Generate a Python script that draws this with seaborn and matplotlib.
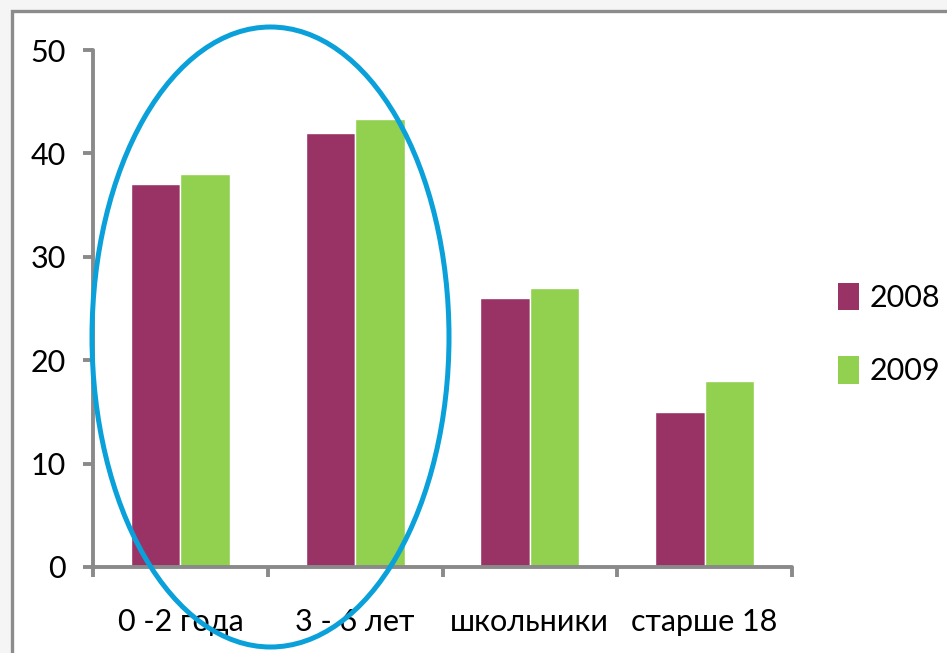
import matplotlib
matplotlib.use("Agg")
import matplotlib.pyplot as plt
from matplotlib.patches import Ellipse, Rectangle, Patch
import seaborn as sns
import pandas as pd

categories = ["0 -2 года", "3 - 6 лет", "школьники", "старше 18"]
years = ["2008", "2009"]
values_2008 = [37, 42, 26, 15]
values_2009 = [38, 43.3, 27, 18]
colors = {"2008": "#993366", "2009": "#92D050"}
y_ticks = [0, 10, 20, 30, 40, 50]

df = pd.DataFrame({
    "group": categories * 2,
    "year": ["2008"] * len(categories) + ["2009"] * len(categories),
    "value": values_2008 + values_2009,
})

sns.set_style("white")
plt.rcParams["font.family"] = ["Lato", "DejaVu Sans"]
plt.rcParams["text.color"] = "black"
plt.rcParams["xtick.color"] = "black"
plt.rcParams["ytick.color"] = "black"

W, H = 947, 653
fig = plt.figure(figsize=(W / 100, H / 100), dpi=100)
fig.patch.set_facecolor("#f5f5f5")

# white slide panel with gray border
panel = Rectangle((12 / W, -0.2), 1.2, 1 - 11 / H + 0.2,
                  transform=fig.transFigure, facecolor="white",
                  edgecolor="#8c8c8c", linewidth=2.4, zorder=-5)
fig.add_artist(panel)

ax = fig.add_axes([93 / W, 1 - 567 / H, (792 - 93) / W, (567 - 50) / H])
ax.set_facecolor("none")
ax.set_zorder(1)

sns.barplot(data=df, x="group", y="value", hue="year", palette=colors,
            width=0.567, gap=0, saturation=1, ax=ax, legend=False)

ax.set_xlim(-0.5, 3.5)
ax.set_ylim(0, 50)
ax.set_yticks(y_ticks)
ax.set_xlabel("")
ax.set_ylabel("")

spine_c = "#8a8a8a"
for s in ["top", "right"]:
    ax.spines[s].set_visible(False)
for s in ["left", "bottom"]:
    ax.spines[s].set_color(spine_c)
    ax.spines[s].set_linewidth(2.8)
    ax.spines[s].set_capstyle("round")

ax.set_xticks([i + 0.5 for i in range(-1, 4)], minor=True)
ax.tick_params(axis="x", which="major", bottom=False, pad=26, labelsize=22)
ax.tick_params(axis="x", which="minor", bottom=True, length=7.5, width=2.8,
               color=spine_c, direction="out")
ax.tick_params(axis="y", which="major", left=True, length=7.5, width=2.8,
               color=spine_c, direction="out", pad=12, labelsize=22)

# legend at the right
handles = [Patch(facecolor=colors[y], edgecolor="none", label=y) for y in years]
leg = fig.legend(handles=handles, loc="center left",
                 bbox_to_anchor=(810 / W, 1 - 334 / H), frameon=False,
                 fontsize=22, handlelength=0.7, handleheight=1.0,
                 handletextpad=0.35, labelspacing=1.45)
leg.set_zorder(3)

# highlight around the first two groups
ring = Ellipse((270.5 / W, 1 - 337 / H), 357 / W, 620 / H,
               transform=fig.transFigure, fill=False,
               edgecolor="#0AA0DA", linewidth=3.6, zorder=5)
fig.add_artist(ring)

fig.savefig("out.png", dpi=100)
